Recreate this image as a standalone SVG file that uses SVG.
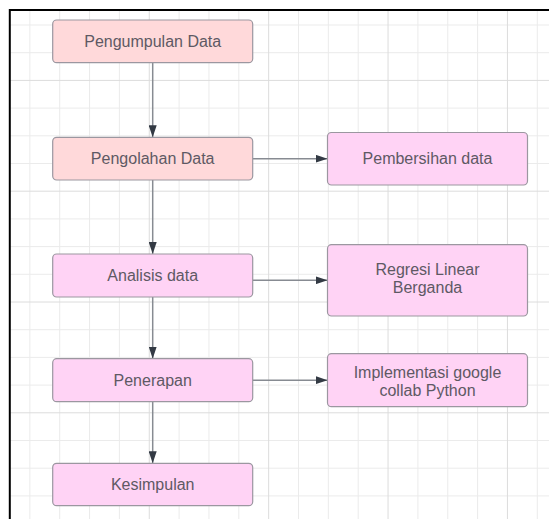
<svg xmlns="http://www.w3.org/2000/svg" width="549" height="519" viewBox="0 0 549 519">
<style>
.grid{stroke:#ebebeb;stroke-width:1;fill:none}
.gridm{stroke:#dcdcdc;stroke-width:1;fill:none}
.box{stroke:#9b97a0;stroke-width:1.2}
.a{fill:#ffd9da}
.b{fill:#ffd3f5}
.t{font-family:"Liberation Sans",Arial,sans-serif;font-size:16px;fill:#5e5964;text-anchor:middle}
.c{stroke:#878b92;stroke-width:1.5;fill:none;marker-end:url(#ah)}
</style>
<defs>
<marker id="ah" markerUnits="userSpaceOnUse" markerWidth="12" markerHeight="8" refX="12" refY="4" orient="auto">
<path d="M0,0L12,4L0,8z" fill="#333a44"/>
</marker>
<clipPath id="fr"><rect x="10" y="10" width="539" height="509"/></clipPath>
</defs>
<rect width="549" height="519" fill="#ffffff"/>
<g clip-path="url(#fr)">
<path class="grid" d="M29.85,0V519M59.7,0V519M89.55,0V519M119.4,0V519M179.1,0V519M208.95,0V519M238.8,0V519M298.5,0V519M328.35,0V519M358.2,0V519M417.9,0V519M447.75,0V519M477.6,0V519M537.3,0V519M0,25H549M0,52.7H549M0,108.1H549M0,135.8H549M0,163.5H549M0,218.9H549M0,246.6H549M0,274.3H549M0,329.7H549M0,357.4H549M0,385.1H549M0,440.5H549M0,468.2H549M0,495.9H549"/>
<path class="gridm" d="M149.25,0V519M268.65,0V519M388.05,0V519M507.45,0V519M0,80.4H549M0,191.2H549M0,302H549M0,412.8H549"/>
</g>
<path d="M9,10H549M9.8,9V519" stroke="#000" stroke-width="2" fill="none"/>
<g id="connectors">
<path class="c" d="M152.7,62.7V137.3"/>
<path class="c" d="M152.7,180V254"/>
<path class="c" d="M152.7,297V358.7"/>
<path class="c" d="M152.7,401.7V463.3"/>
<path class="c" d="M252.7,158.7H327.5"/>
<path class="c" d="M252.7,280.3H327.5"/>
<path class="c" d="M252.7,380.2H327.5"/>
</g>
<g id="n1"><rect class="box a" x="52.7" y="20" width="200" height="42.7" rx="4"/><text class="t" x="152.7" y="47">Pengumpulan Data</text></g>
<g id="n2"><rect class="box a" x="52.7" y="137.3" width="200" height="42.7" rx="4"/><text class="t" x="152.7" y="164.3">Pengolahan Data</text></g>
<g id="n3"><rect class="box b" x="327.5" y="132.5" width="200" height="52.5" rx="4"/><text class="t" x="427.5" y="164.3">Pembersihan data</text></g>
<g id="n4"><rect class="box b" x="52.7" y="254" width="200" height="43" rx="4"/><text class="t" x="152.7" y="281">Analisis data</text></g>
<g id="n5"><rect class="box b" x="327.5" y="244.7" width="200" height="71.3" rx="4"/><text class="t" x="427.5" y="275">Regresi Linear</text><text class="t" x="427.5" y="293">Berganda</text></g>
<g id="n6"><rect class="box b" x="52.7" y="358.7" width="200" height="43" rx="4"/><text class="t" x="152.7" y="385.8">Penerapan</text></g>
<g id="n7"><rect class="box b" x="327.5" y="353.7" width="200" height="53" rx="4"/><text class="t" x="427.5" y="377.8">Implementasi google</text><text class="t" x="427.5" y="395.5">collab Python</text></g>
<g id="n8"><rect class="box b" x="52.7" y="463.3" width="200" height="42.4" rx="4"/><text class="t" x="152.7" y="490.2">Kesimpulan</text></g>
</svg>
